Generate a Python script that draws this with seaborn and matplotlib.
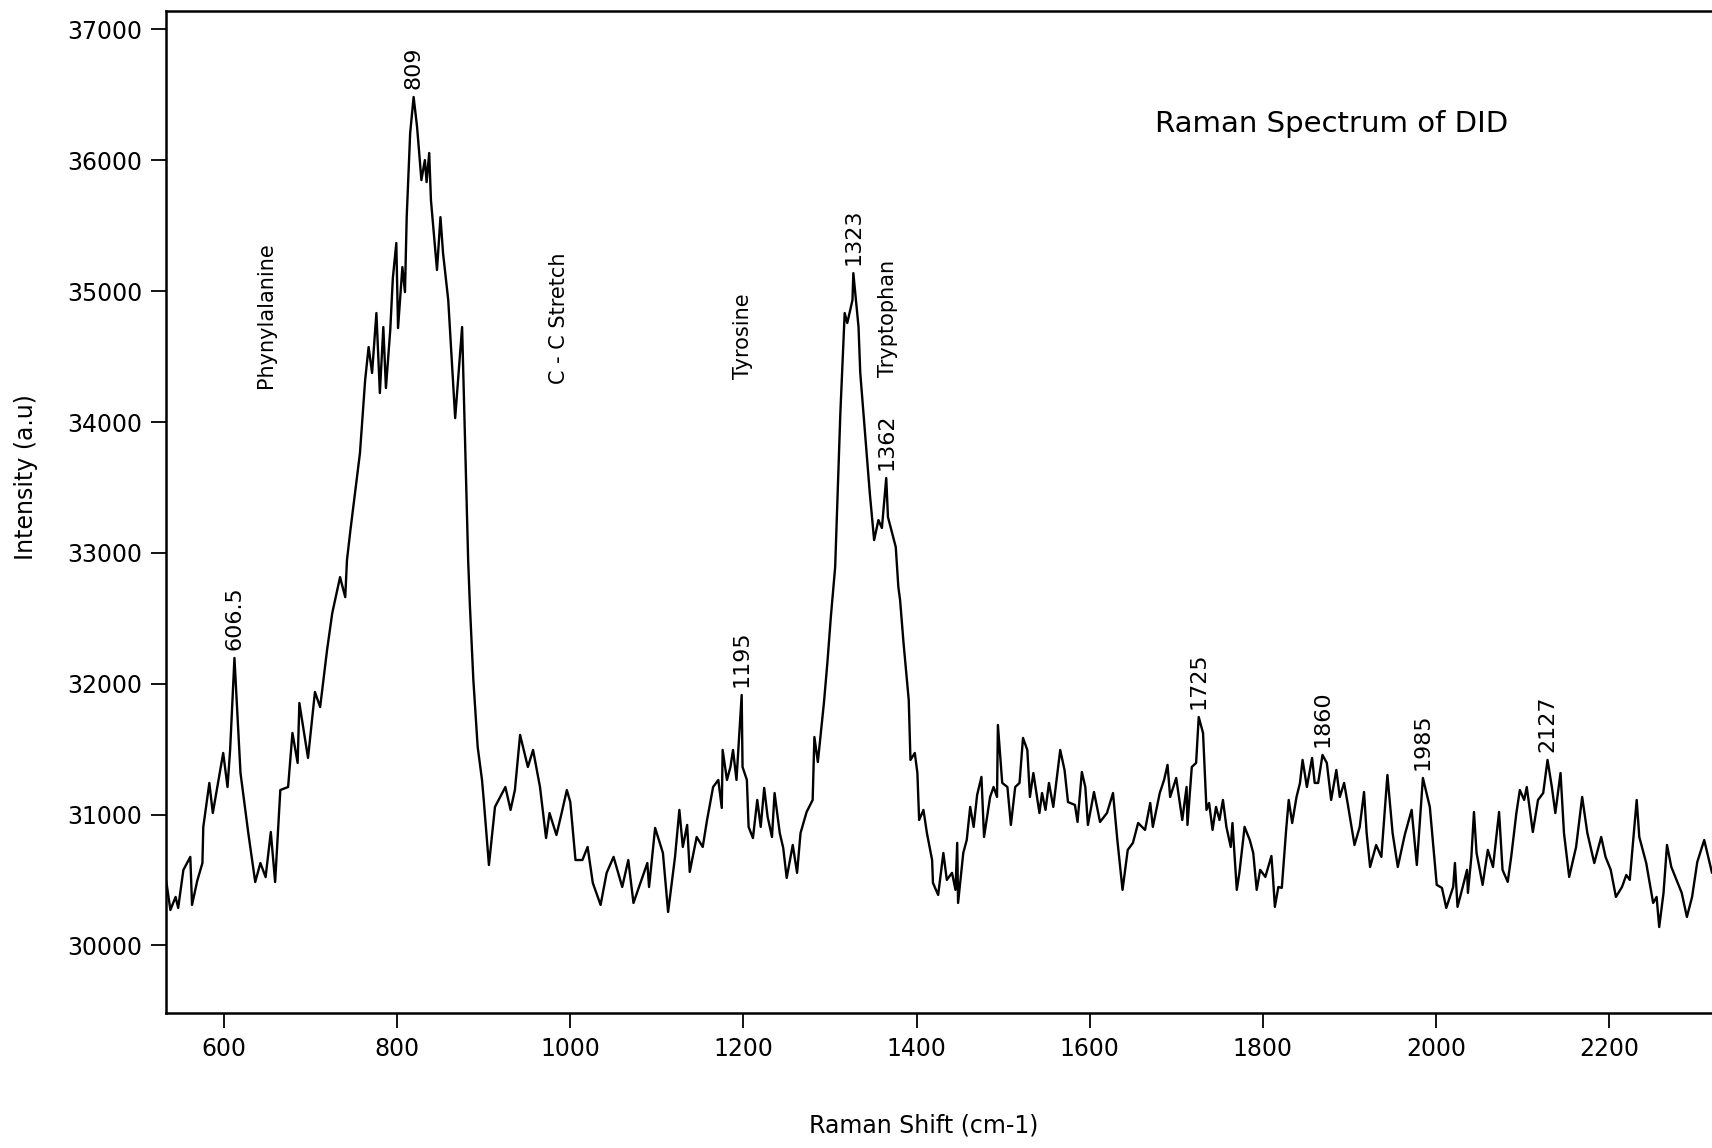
import numpy as np
import pandas as pd
import seaborn as sns
import matplotlib
matplotlib.use("Agg")
import matplotlib.pyplot as plt

# Raman shift (cm-1) and intensity (a.u.)
shift = [
    533, 538, 544, 547, 553, 561, 563, 569, 575, 576, 583, 587, 599, 604, 607, 612,
    619, 628, 636, 642, 648, 654, 659, 665, 674, 679, 685, 687, 697, 705, 711, 719,
    725, 734, 740, 742, 746, 757, 763, 767, 771, 776, 780, 784, 787, 792, 795, 799,
    801, 806, 809, 811, 815, 819, 823, 828, 832, 834, 837, 839, 846, 850, 853, 859,
    867, 875, 880, 882, 884, 888, 893, 898, 900, 906, 913, 925, 931, 936, 942, 951,
    957, 965, 972, 976, 984, 990, 996, 1000, 1006, 1014, 1020, 1026, 1035, 1042, 1050, 1060,
    1067, 1073, 1081, 1089, 1091, 1098, 1107, 1113, 1121, 1126, 1130, 1135, 1138, 1146, 1153, 1158,
    1165, 1171, 1175, 1176, 1181, 1185, 1188, 1192, 1198, 1199, 1204, 1206, 1211, 1216, 1220, 1224,
    1228, 1233, 1236, 1242, 1246, 1250, 1257, 1262, 1266, 1273, 1280, 1282, 1286, 1293, 1297, 1301,
    1306, 1312, 1317, 1320, 1326, 1327, 1333, 1335, 1346, 1351, 1356, 1360, 1365, 1367, 1376, 1379,
    1381, 1385, 1391, 1393, 1398, 1401, 1403, 1408, 1412, 1418, 1419, 1425, 1431, 1435, 1441, 1445,
    1447, 1448, 1454, 1458, 1462, 1466, 1470, 1475, 1478, 1485, 1489, 1493, 1494, 1499, 1505, 1509,
    1514, 1519, 1523, 1528, 1531, 1535, 1542, 1545, 1549, 1553, 1558, 1566, 1571, 1575, 1583, 1586,
    1591, 1595, 1598, 1605, 1612, 1620, 1627, 1632, 1638, 1644, 1650, 1656, 1664, 1670, 1673, 1681,
    1686, 1690, 1693, 1700, 1707, 1712, 1713, 1718, 1723, 1726, 1731, 1735, 1738, 1742, 1746, 1750,
    1754, 1758, 1763, 1765, 1770, 1773, 1779, 1785, 1789, 1793, 1797, 1803, 1810, 1812, 1814, 1818,
    1822, 1827, 1830, 1834, 1839, 1843, 1846, 1851, 1857, 1860, 1864, 1869, 1874, 1879, 1885, 1889,
    1894, 1898, 1906, 1912, 1917, 1920, 1924, 1931, 1937, 1944, 1950, 1956, 1964, 1972, 1978, 1985,
    1993, 2001, 2007, 2012, 2020, 2022, 2025, 2031, 2036, 2037, 2041, 2044, 2047, 2054, 2060, 2066,
    2073, 2077, 2083, 2087, 2093, 2097, 2102, 2105, 2112, 2118, 2124, 2129, 2134, 2138, 2144, 2148,
    2154, 2162, 2169, 2175, 2183, 2191, 2196, 2202, 2208, 2215, 2220, 2224, 2232, 2235, 2243, 2251,
    2255, 2258, 2263, 2267, 2272, 2278, 2284, 2290, 2296, 2302, 2310, 2319,
]
intensity = [
    30501, 30271, 30371, 30287, 30577, 30677, 30310, 30494, 30630, 30905, 31242, 31012, 31471, 31211, 31494, 32197,
    31318, 30859, 30485, 30630, 30523, 30867, 30485, 31188, 31211, 31624, 31395, 31853, 31433, 31937, 31822, 32258,
    32540, 32815, 32662, 32945, 33175, 33763, 34321, 34573, 34375, 34833, 34222, 34726, 34260, 34703, 35100, 35368,
    34718, 35184, 34993, 35566, 36208, 36484, 36254, 35849, 36002, 35834, 36056, 35697, 35162, 35566, 35291, 34932,
    34030, 34726, 33457, 32945, 32600, 32029, 31517, 31265, 31112, 30615, 31059, 31211, 31036, 31188, 31609, 31364,
    31494, 31211, 30821, 31012, 30844, 31012, 31188, 31096, 30653, 30653, 30753, 30478, 30310, 30555, 30677, 30447,
    30653, 30325, 30478, 30630, 30447, 30898, 30707, 30256, 30677, 31036, 30753, 30921, 30562, 30829, 30753, 30959,
    31211, 31265, 31051, 31494, 31265, 31364, 31494, 31265, 31914, 31364, 31265, 30906, 30821, 31112, 30906, 31204,
    30982, 30829, 31165, 30859, 30745, 30516, 30768, 30555, 30859, 31020, 31112, 31593, 31402, 31853, 32159, 32510,
    32892, 34069, 34833, 34757, 34932, 35138, 34726, 34375, 33457, 33098, 33251, 33190, 33572, 33274, 33045, 32739,
    32640, 32311, 31876, 31418, 31471, 31318, 30959, 31036, 30859, 30653, 30478, 30386, 30707, 30501, 30555, 30425,
    30784, 30325, 30707, 30806, 31059, 30906, 31150, 31288, 30829, 31135, 31211, 31135, 31685, 31242, 31211, 30921,
    31211, 31242, 31586, 31494, 31135, 31318, 31012, 31165, 31036, 31242, 31059, 31494, 31341, 31096, 31074, 30944,
    31326, 31211, 30921, 31173, 30944, 31012, 31165, 30806, 30425, 30730, 30784, 30936, 30883, 31089, 30906, 31165,
    31265, 31380, 31135, 31280, 30959, 31211, 30921, 31364, 31395, 31746, 31624, 31036, 31089, 30883, 31059, 30959,
    31112, 30906, 30753, 30936, 30425, 30555, 30906, 30806, 30707, 30425, 30578, 30524, 30684, 30501, 30295, 30447,
    30440, 30883, 31112, 30936, 31135, 31242, 31418, 31211, 31433, 31242, 31242, 31456, 31395, 31112, 31341, 31135,
    31242, 31089, 30768, 30906, 31173, 30859, 30600, 30768, 30677, 31303, 30859, 30600, 30844, 31036, 30615, 31280,
    31059, 30463, 30440, 30287, 30447, 30630, 30295, 30447, 30578, 30402, 30677, 31020, 30707, 30463, 30730, 30600,
    31020, 30578, 30486, 30677, 31012, 31188, 31112, 31211, 30867, 31112, 31165, 31418, 31211, 31012, 31318, 30859,
    30524, 30753, 31135, 30859, 30630, 30829, 30677, 30578, 30371, 30447, 30539, 30501, 31112, 30829, 30630, 30325,
    30371, 30141, 30402, 30768, 30600, 30501, 30402, 30218, 30371, 30638, 30806, 30555,
]

# labelled peaks (label text, nominal shift)
peak_labels = ["606.5", "809", "1195", "1323", "1362", "1725", "1860", "1985", "2127"]
peak_shift = [606.5, 809, 1195, 1323, 1362, 1725, 1860, 1985, 2127]

# band assignments written vertically
band_names = ["Phynylalanine", "C - C Stretch", "Tyrosine", "Tryptophan"]
band_x = [649, 987, 1199, 1367]
band_y = [34260, 34290, 34330, 34345]

df = pd.DataFrame({"shift": shift, "intensity": intensity})

sns.set_style("ticks")
plt.rcParams["font.family"] = ["DejaVu Sans"]
plt.rcParams["text.color"] = "black"
plt.rcParams["axes.labelcolor"] = "black"
plt.rcParams["xtick.color"] = "black"
plt.rcParams["ytick.color"] = "black"

fig = plt.figure(figsize=(17.12, 11.48), dpi=100)
ax = fig.add_axes([0.097, 0.1176, 0.903, 0.8728])

sns.lineplot(data=df, x="shift", y="intensity", ax=ax, color="black",
             linewidth=1.7, sort=False, estimator=None)

ax.set_xlim(533, 2319)
ax.set_ylim(29484, 37141)
ax.set_xticks(range(600, 2201, 200))
ax.set_yticks(range(30000, 37001, 1000))
ax.tick_params(axis="both", direction="out", length=11, width=1.3,
               labelsize=17, pad=6)
ax.spines["right"].set_visible(False)
for s in ["left", "bottom", "top"]:
    ax.spines[s].set_linewidth(1.8)
    ax.spines[s].set_color("black")

ax.set_xlabel("Raman Shift (cm-1)", fontsize=17)
ax.set_ylabel("Intensity (a.u)", fontsize=17)
ax.xaxis.set_label_coords(0.49, -0.100)
ax.yaxis.set_label_coords(-0.083, 0.535)

# peak numbers just above the local maximum of the trace
sh = np.array(shift)
it = np.array(intensity)
for lab, p in zip(peak_labels, peak_shift):
    win = (sh >= p - 12) & (sh <= p + 12)
    i = np.argmax(np.where(win, it, -1))
    ax.annotate(lab, (sh[i], it[i]), xytext=(0, 6), textcoords="offset points",
                rotation=90, ha="center", va="bottom", fontsize=16)

for name, x, y in zip(band_names, band_x, band_y):
    ax.text(x, y, name, rotation=90, ha="center", va="bottom", fontsize=15)

ax.text(1880, 36280, "Raman Spectrum of DID", ha="center", va="center", fontsize=21)

fig.savefig("out.png", dpi=100)
